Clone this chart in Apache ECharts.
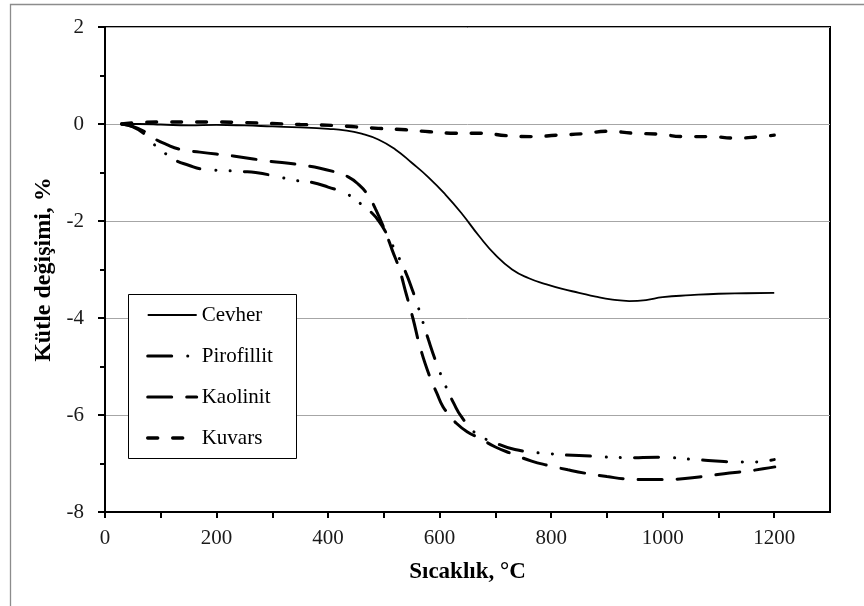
<!DOCTYPE html>
<html>
<head>
<meta charset="utf-8">
<script src="https://cdn.jsdelivr.net/npm/echarts@6/dist/echarts.min.js"></script>
<style>
html,body{margin:0;padding:0;background:#fff;}
#chart{width:864px;height:606px;}
</style>
</head>
<body>
<div id="chart"></div>
<script>
// ---- data ----
const seriesNames = ['Cevher', 'Pirofillit', 'Kaolinit', 'Kuvars'];

const cevherT = [30, 60, 100, 150, 200, 250, 300, 350, 400, 430, 460, 490, 520, 550, 580, 610, 640, 670, 700, 730, 760, 790, 820, 850, 880, 910, 940, 970, 1000, 1050, 1100, 1150, 1200];
const cevherV = [0, 0, -0.01, -0.03, -0.02, -0.03, -0.05, -0.07, -0.1, -0.13, -0.2, -0.32, -0.52, -0.8, -1.1, -1.45, -1.85, -2.3, -2.7, -3.0, -3.18, -3.3, -3.4, -3.48, -3.56, -3.62, -3.65, -3.63, -3.57, -3.53, -3.5, -3.49, -3.48];

const pirofillitT = [30, 50, 68, 84, 104, 125, 150, 175, 216, 245, 270, 315, 340, 370, 400, 435, 460, 480, 492, 502, 520, 537, 552, 565, 580, 595, 610, 625, 640, 666, 695, 735, 800, 860, 940, 990, 1060, 1110, 1160, 1200];
const pirofillitV = [0, -0.06, -0.18, -0.38, -0.57, -0.74, -0.85, -0.93, -0.96, -0.98, -1.0, -1.1, -1.16, -1.2, -1.3, -1.45, -1.66, -1.85, -2.02, -2.2, -2.6, -3.0, -3.45, -3.9, -4.45, -4.95, -5.38, -5.75, -6.05, -6.39, -6.55, -6.71, -6.8, -6.84, -6.88, -6.87, -6.92, -6.96, -6.97, -6.92];

const kaolinitT = [30, 50, 70, 87, 110, 134, 170, 230, 290, 350, 410, 436, 455, 471, 485, 502, 515, 528, 540, 552, 565, 582, 595, 606, 618, 630, 650, 672, 700, 730, 765, 795, 830, 866, 900, 938, 970, 1007, 1040, 1078, 1110, 1150, 1180, 1201];
const kaolinitV = [0, -0.05, -0.15, -0.29, -0.42, -0.52, -0.58, -0.66, -0.76, -0.84, -0.98, -1.09, -1.25, -1.46, -1.75, -2.2, -2.6, -3.0, -3.5, -4.0, -4.6, -5.2, -5.55, -5.83, -6.0, -6.17, -6.35, -6.48, -6.66, -6.8, -6.95, -7.04, -7.13, -7.21, -7.27, -7.32, -7.33, -7.33, -7.31, -7.26, -7.21, -7.16, -7.11, -7.07];

const kuvarsT = [30, 60, 100, 150, 200, 250, 300, 350, 410, 450, 490, 540, 582, 629, 675, 720, 766, 810, 857, 902, 947, 993, 1039, 1085, 1130, 1175, 1200];
const kuvarsV = [0, 0.03, 0.04, 0.04, 0.04, 0.03, 0.01, -0.01, -0.03, -0.06, -0.09, -0.12, -0.16, -0.19, -0.19, -0.24, -0.26, -0.23, -0.2, -0.15, -0.19, -0.21, -0.26, -0.26, -0.29, -0.26, -0.23];

const xTickLabels = ['0', '200', '400', '600', '800', '1000', '1200'];
const yTickLabels = ['-8', '-6', '-4', '-2', '0', '2'];

// ---- chart ----
function pairs(t, v) { return t.map((x, i) => [x, v[i]]); }
const FONT = 'Liberation Serif';

const chart = echarts.init(document.getElementById('chart'), null, {renderer: 'canvas'});

const common = {
  type: 'line', symbol: 'none', showSymbol: false, smooth: 0.5,
  animation: false
};

chart.setOption({
  animation: false,
  backgroundColor: '#fff',
  grid: {
    left: 105, top: 27, right: 34, bottom: 94,
    show: true, borderColor: '#000', borderWidth: 2, backgroundColor: 'transparent'
  },
  graphic: [
    { type: 'rect', z: 0, silent: true,
      shape: { x: 10.5, y: 4.5, width: 900, height: 700 },
      style: { fill: 'none', stroke: '#8c8c8c', lineWidth: 1.3 } },
    { type: 'rect', z: 3, silent: true,
      shape: { x: 128.5, y: 294.5, width: 168, height: 164 },
      style: { fill: '#fff', stroke: '#000', lineWidth: 1 } }
  ],
  legend: {
    show: true, orient: 'vertical', left: 146, top: 304, padding: 0,
    itemWidth: 49, itemHeight: 14, itemGap: 19, z: 5,
    itemStyle: { color: 'transparent', borderWidth: 0, opacity: 0 },
    lineStyle: { width: 'inherit', type: 'inherit', color: 'inherit', cap: 'inherit' },
    textStyle: { fontFamily: FONT, fontSize: 21, color: '#000', lineHeight: 22 },
    data: seriesNames
  },
  xAxis: {
    type: 'value', min: 0, max: 1300, interval: 100,
    name: 'Sıcaklık, °C', nameLocation: 'middle', nameGap: 49,
    nameTextStyle: { fontFamily: FONT, fontSize: 23, fontWeight: 'bold', color: '#000' },
    axisLine: { show: true, onZero: false, lineStyle: { color: '#000', width: 2 } },
    axisTick: { show: true, inside: false, length: 6, lineStyle: { color: '#000', width: 2 } },
    axisLabel: {
      fontFamily: FONT, fontSize: 21, color: '#1a1a1a', margin: 16,
      showMaxLabel: false,
      formatter: function (v) { return xTickLabels.indexOf(String(v)) >= 0 ? String(v) : ''; }
    },
    splitLine: { show: false }
  },
  yAxis: {
    type: 'value', min: -8, max: 2, interval: 2,
    name: 'Kütle değişimi, %', nameLocation: 'middle', nameGap: 36, nameRotate: 90,
    nameTextStyle: { fontFamily: FONT, fontSize: 24, fontWeight: 'bold', color: '#000' },
    axisLine: { show: true, onZero: false, lineStyle: { color: '#000', width: 2 } },
    axisTick: { show: true, inside: false, length: 7, lineStyle: { color: '#000', width: 2 } },
    minorTick: { show: true, splitNumber: 2, length: 5, lineStyle: { color: '#000', width: 2 } },
    axisLabel: {
      fontFamily: FONT, fontSize: 21, color: '#1a1a1a', margin: 21,
      formatter: function (v) { return yTickLabels.indexOf(String(v)) >= 0 ? String(v) : ''; }
    },
    splitLine: { show: true, lineStyle: { color: '#a6a6a6', width: 1 } }
  },
  series: [
    Object.assign({}, common, {
      name: seriesNames[0], data: pairs(cevherT, cevherV),
      lineStyle: { color: '#000', width: 1.8, type: 'solid' }, itemStyle: { color: '#000' }
    }),
    Object.assign({}, common, {
      name: seriesNames[1], data: pairs(pirofillitT, pirofillitV),
      lineStyle: { color: '#000', width: 3, type: [24, 16, 0.1, 14, 0.1, 14], cap: 'round' }, itemStyle: { color: '#000' }
    }),
    Object.assign({}, common, {
      name: seriesNames[2], data: pairs(kaolinitT, kaolinitV),
      lineStyle: { color: '#000', width: 3, type: [24, 15], cap: 'round' }, itemStyle: { color: '#000' }
    }),
    Object.assign({}, common, {
      name: seriesNames[3], data: pairs(kuvarsT, kuvarsV),
      lineStyle: { color: '#000', width: 3.4, type: [10, 15], cap: 'round' }, itemStyle: { color: '#000' }
    })
  ]
});
</script>
</body>
</html>
